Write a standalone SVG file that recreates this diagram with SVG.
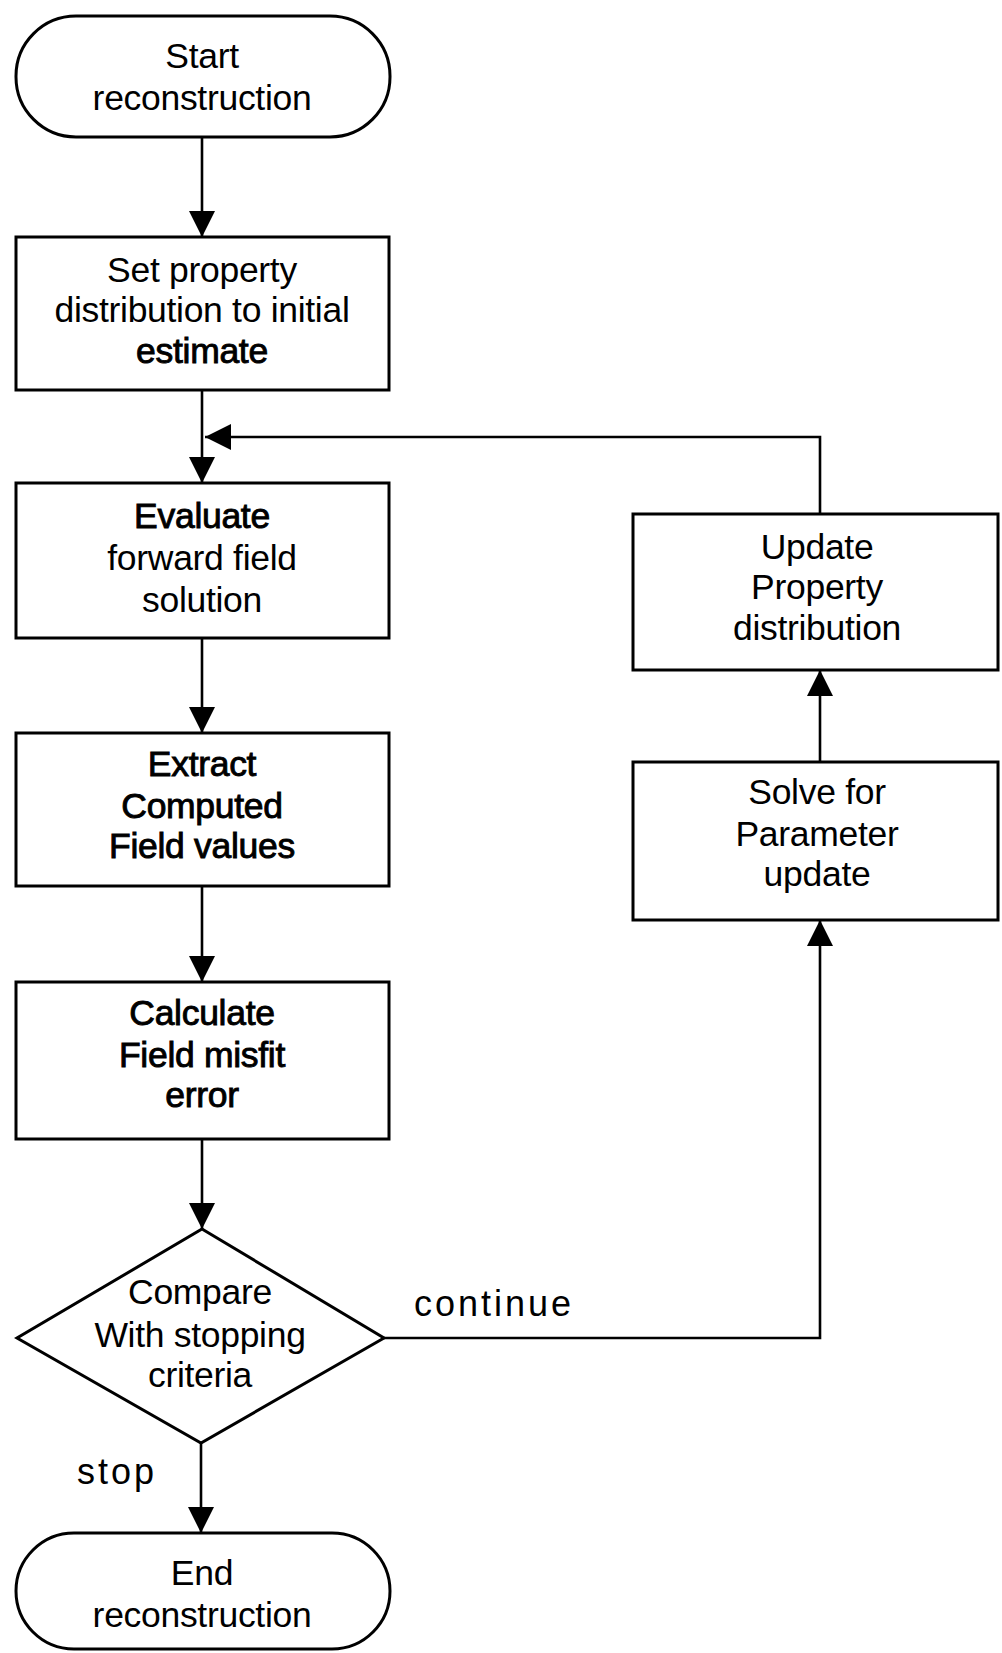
<svg xmlns="http://www.w3.org/2000/svg" width="1002" height="1653" viewBox="0 0 1002 1653">
<style>
.shape{fill:#fff;stroke:#000;stroke-width:3}
.t{font-family:"Liberation Sans",Arial,sans-serif;font-size:35.5px;fill:#000;text-anchor:middle;letter-spacing:-0.3px}
.b{stroke:#000;stroke-width:0.9}
.lbl{font-family:"Liberation Sans",Arial,sans-serif;font-size:36px;fill:#000;letter-spacing:3px}
.c{fill:none;stroke:#000;stroke-width:2.6}
</style>
<defs>
<marker id="ah" viewBox="0 0 26 26" refX="26" refY="13" markerWidth="26" markerHeight="26" markerUnits="userSpaceOnUse" orient="auto">
<path d="M0,0 L26,13 L0,26 Z" fill="#000"/>
</marker>
</defs>
<rect width="1002" height="1653" fill="#fff"/>
<g id="connectors">
<path class="c" d="M202,137 V237" marker-end="url(#ah)"/>
<path class="c" d="M202,390 V483" marker-end="url(#ah)"/>
<path class="c" d="M820,514 V437 H205" marker-end="url(#ah)"/>
<path class="c" d="M202,638 V733" marker-end="url(#ah)"/>
<path class="c" d="M202,886 V982" marker-end="url(#ah)"/>
<path class="c" d="M202,1139 V1229" marker-end="url(#ah)"/>
<path class="c" d="M201,1443 V1533" marker-end="url(#ah)"/>
<path class="c" d="M384,1338 H820 V920" marker-end="url(#ah)"/>
<path class="c" d="M820,762 V670" marker-end="url(#ah)"/>
</g>
<g id="start">
<rect class="shape" x="16" y="16" width="374" height="121" rx="60" ry="60"/>
<text class="t" x="202" y="68">Start</text>
<text class="t" x="202" y="110">reconstruction</text>
</g>
<g id="set-initial">
<rect class="shape" x="16" y="237" width="373" height="153"/>
<text class="t" x="202" y="282">Set property</text>
<text class="t" x="202" y="322">distribution to initial</text>
<text class="t b" x="202" y="363">estimate</text>
</g>
<g id="evaluate">
<rect class="shape" x="16" y="483" width="373" height="155"/>
<text class="t b" x="202" y="528">Evaluate</text>
<text class="t" x="202" y="570">forward field</text>
<text class="t" x="202" y="612">solution</text>
</g>
<g id="extract">
<rect class="shape" x="16" y="733" width="373" height="153"/>
<text class="t b" x="202" y="776">Extract</text>
<text class="t b" x="202" y="818">Computed</text>
<text class="t b" x="202" y="858">Field values</text>
</g>
<g id="calculate">
<rect class="shape" x="16" y="982" width="373" height="157"/>
<text class="t b" x="202" y="1025">Calculate</text>
<text class="t b" x="202" y="1067">Field misfit</text>
<text class="t b" x="202" y="1107">error</text>
</g>
<g id="compare">
<polygon class="shape" points="202,1229 384,1338 201,1443 17,1338"/>
<text class="t" x="200" y="1304">Compare</text>
<text class="t" x="200" y="1347">With stopping</text>
<text class="t" x="200" y="1387">criteria</text>
</g>
<g id="end">
<rect class="shape" x="16" y="1533" width="374" height="116" rx="58" ry="58"/>
<text class="t" x="202" y="1585">End</text>
<text class="t" x="202" y="1627">reconstruction</text>
</g>
<g id="update">
<rect class="shape" x="633" y="514" width="365" height="156"/>
<text class="t" x="817" y="559">Update</text>
<text class="t" x="817" y="599">Property</text>
<text class="t" x="817" y="640">distribution</text>
</g>
<g id="solve">
<rect class="shape" x="633" y="762" width="365" height="158"/>
<text class="t" x="817" y="804">Solve for</text>
<text class="t" x="817" y="846">Parameter</text>
<text class="t" x="817" y="886">update</text>
</g>
<g id="labels">
<text class="lbl" x="414" y="1316">continue</text>
<text class="lbl" x="77" y="1484">stop</text>
</g>
</svg>
